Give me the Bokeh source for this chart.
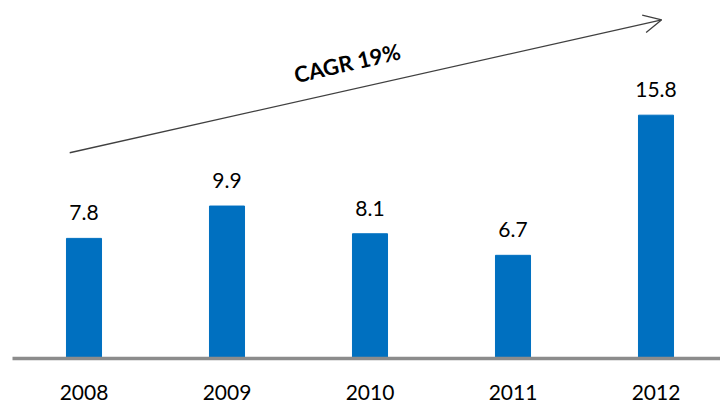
from bokeh.plotting import figure
from bokeh.models import ColumnDataSource, LabelSet, Label, Arrow, OpenHead, FixedTicker
from bokeh.core.properties import value
from bokeh.embed import file_html
from bokeh.resources import INLINE

years = ["2008", "2009", "2010", "2011", "2012"]
values = [7.8, 9.9, 8.1, 6.7, 15.8]
value_labels = ["7.8", "9.9", "8.1", "6.7", "15.8"]
cagr_text = "CAGR 19%"

# annotation arrow (data coordinates)
arrow_start = (-0.10, 13.36)
arrow_end = (4.04, 21.99)
cagr_pos = (1.84, 19.2)

xs = list(range(len(years)))
src = ColumnDataSource(dict(x=xs, top=values, lab=value_labels))

FONT = "Lato"
PX_PER_UNIT = 15.4

p = figure(width=720, height=405, output_backend="svg", toolbar_location=None,
           x_range=(-0.5, -0.5 + 708 / 143), y_range=(0, 350 / PX_PER_UNIT),
           min_border_left=12, min_border_right=0, min_border_top=8, min_border_bottom=47)

p.vbar(x="x", top="top", width=0.245, bottom=0, source=src, color="#0070C0")

labels = LabelSet(x="x", y="top", text="lab", source=src, text_align="center",
                  text_baseline="alphabetic", y_offset=18, text_font=value(FONT),
                  text_font_size=value("21px"), text_color="#000000")
p.add_layout(labels)

p.add_layout(Arrow(end=OpenHead(size=18, line_color="#404040", line_width=1.3),
                   x_start=arrow_start[0], y_start=arrow_start[1],
                   x_end=arrow_end[0], y_end=arrow_end[1],
                   line_color="#404040", line_width=1.3))

p.add_layout(Label(x=cagr_pos[0], y=cagr_pos[1], text=cagr_text, angle=0.225,
                   text_align="center", text_baseline="middle", text_font=FONT,
                   text_font_style="bold", text_font_size="22px", text_color="#000000"))

p.yaxis.visible = False
p.xgrid.visible = False
p.ygrid.visible = False
p.outline_line_color = None

ax = p.xaxis[0]
ax.ticker = FixedTicker(ticks=xs)
ax.major_label_overrides = {i: y for i, y in enumerate(years)}
ax.axis_line_color = "#8C8C8C"
ax.axis_line_width = 3.5
ax.major_tick_line_color = None
ax.minor_tick_line_color = None
ax.major_tick_out = 0
ax.major_tick_in = 0
ax.major_label_standoff = 26
ax.major_label_text_font = FONT
ax.major_label_text_font_size = "21px"
ax.major_label_text_color = "#000000"

open("out.html", "w").write(file_html(p, INLINE))
